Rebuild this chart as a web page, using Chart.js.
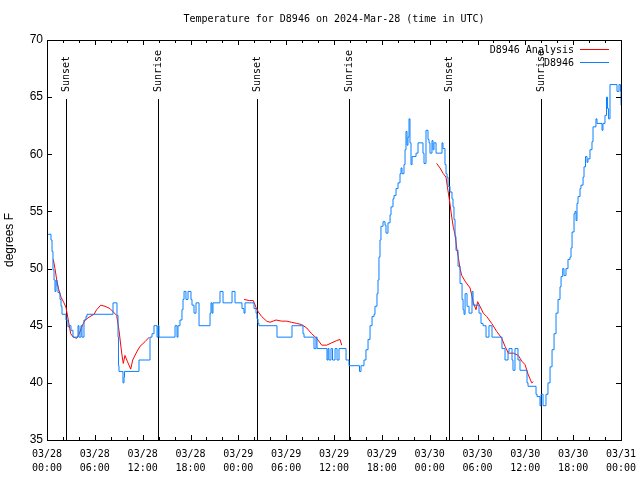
<!DOCTYPE html>
<html>
<head>
<meta charset="utf-8">
<script src="https://cdn.jsdelivr.net/npm/chart.js@4.4.1/dist/chart.umd.min.js"></script>
<style>
  html, body { margin: 0; padding: 0; background: #fff; }
  #wrap { width: 640px; height: 480px; }
</style>
</head>
<body>
<div id="wrap"><canvas id="grafico" width="640" height="480"></canvas></div>
<script>
// hours since 2024-03-28 00:00 UTC
const obsHours = [0, 0.5, 0.63, 0.75, 0.88, 1.0, 1.13, 1.25, 1.38, 1.63, 1.76, 1.88, 2.38, 2.63, 2.76, 3.01, 3.26, 3.89, 4.01, 4.26, 4.39, 4.64, 4.89, 5.02,
  8.28, 8.78, 8.91, 8.97, 9.03, 9.53, 9.66, 9.72, 11.54, 12.92, 13.17, 13.42, 13.80, 13.92, 14.05, 16.06, 16.31, 16.43, 16.68, 16.93, 17.06, 17.19,
  17.43, 17.69, 18.06, 18.19, 18.44, 18.69, 19.07, 20.45, 20.57, 20.70, 20.82, 21.70, 22.08, 23.21, 23.58, 24.46, 24.71, 24.84, 25.97, 26.22, 26.34,
  26.47, 26.59, 28.85, 30.73, 32.11, 32.24, 33.49, 33.74, 33.87, 35.12, 35.25, 35.37, 35.62, 35.81, 36.13, 36.38, 36.63, 37.51,
  37.88, 39.20, 39.39, 39.76, 40.01, 40.27, 40.52, 40.77, 41.02, 41.14, 41.39, 41.52, 41.64, 41.77, 41.89, 42.15, 42.40, 42.52, 42.77, 43.03, 43.15,
  43.40, 43.53, 43.78, 44.03, 44.28, 44.41, 44.53, 44.78, 44.91, 45.03, 45.16, 45.28, 45.41, 45.53, 45.66, 45.79, 46.29, 46.54, 47.16, 47.29, 47.54,
  47.79, 47.92, 48.04, 48.29, 48.42, 48.54, 48.80, 49.55, 49.67, 49.92, 50.05, 50.18, 50.30, 50.55, 50.80, 50.93, 51.05, 51.18, 51.30, 51.56, 51.81,
  52.06, 52.19, 52.31, 52.44, 52.69, 52.94, 53.31, 53.44, 54.19, 54.44, 54.69, 55.07, 55.44, 55.82, 57.07, 57.45, 57.83, 57.95, 58.33, 58.45, 58.70,
  59.08, 59.33, 60.21, 60.34, 61.34, 61.47, 61.84, 61.97, 62.22, 62.47, 62.59, 62.84, 63.10, 63.35, 63.60, 63.85, 64.10, 64.35, 64.48, 64.69, 64.85,
  65.10, 65.35, 65.60, 65.73, 65.86, 66.11, 66.23, 66.36, 66.48, 66.61, 66.86, 66.98, 67.24, 67.36, 67.55, 67.74, 67.86, 68.11, 68.36, 68.49, 68.86,
  68.99, 69.62, 69.74, 69.99, 70.18, 70.31, 70.44, 70.62, 71.50, 71.75, 71.94, 72.0];
const obsTemps = [53.0, 52.5, 51.5, 49.9, 49.0, 48.0, 49.0, 48.5, 47.9, 47.3, 46.7, 46.0, 45.5, 44.9, 45.0, 44.6, 44.0, 45.0, 44.0, 45.0, 44.0, 45.5, 45.8, 46.0,
  47.0, 45.9, 44.0, 41.5, 41.0, 40.0, 40.5, 41.0, 42.0, 44.0, 44.3, 45.0, 44.0, 45.0, 44.0, 45.0, 44.0, 45.0, 45.5, 46.4, 47.3, 48.0,
  47.3, 48.0, 47.3, 46.8, 46.1, 47.0, 45.0, 46.1, 47.0, 46.1, 47.0, 48.0, 47.0, 48.0, 47.0, 46.5, 46.1, 47.0, 46.5, 46.1, 45.6,
  45.2, 45.0, 44.0, 45.0, 44.3, 44.0, 43.0, 44.0, 43.0, 42.0, 43.0, 42.0, 43.0, 42.0, 43.0, 42.0, 43.0, 42.0, 41.5,
  41.0, 41.5, 42.0, 42.9, 43.8, 45.0, 45.8, 46.0, 46.7, 47.8, 49.0, 51.0, 52.5, 53.7, 54.1, 53.8, 53.1, 54.0, 54.7, 55.4, 56.1,
  56.4, 57.0, 57.5, 58.3, 58.8, 58.3, 59.1, 60.4, 62.0, 60.8, 61.5, 63.1, 61.0, 59.1, 59.8, 60.1, 61.0, 60.1, 59.2, 62.1, 61.3,
  61.0, 60.1, 61.2, 60.4, 61.0, 60.1, 61.0, 60.5, 59.1, 58.3, 58.0, 57.2, 56.7, 56.1, 55.4, 54.3, 52.8, 51.6, 50.2, 48.7, 47.3,
  46.4, 46.0, 47.8, 46.7, 46.1, 48.0, 46.8, 46.1, 45.2, 45.0, 44.0, 45.0, 44.0, 43.0, 42.0, 42.7, 43.0, 42.0, 41.1, 43.0, 42.0,
  41.1, 40.0, 39.7, 39.0, 38.8, 38.0, 39.0, 38.0, 38.0, 39.0, 40.0, 41.4, 42.9, 44.3, 46.1, 47.3, 48.4, 49.3, 50.0, 49.4, 50.0,
  50.8, 51.0, 51.8, 53.2, 54.8, 55.0, 54.2, 55.7, 56.3, 57.0, 57.3, 58.0, 58.9, 59.8, 59.3, 59.6, 60.4, 61.1, 62.4, 63.1, 62.7,
  62.1, 62.7, 63.4, 65.0, 64.0, 63.1, 66.1, 65.5, 66.1, 65.5, 64.3, 64.3];

// analysis series, null = gap
const anaHours = [0.79, 1.00, 1.22, 1.42, 1.76, 2.13, 2.38, 2.67, 2.97, 3.30, 3.73, 4.05, 4.35, 4.77, 5.39, 5.90, 6.23, 6.74, 7.28, 7.90, 8.32, 8.74,
  9.03, 9.37, 9.57, 9.78, 10.07, 10.50, 10.75, 11.25, 11.67, 12.29, 12.83, 18.0,
  24.71, 25.38, 25.88, 26.22, 26.51, 26.93, 27.56, 27.97, 28.73, 29.44, 30.07, 30.69, 31.32, 31.95, 32.58, 33.20, 33.83, 34.46, 35.09, 35.71,
  36.34, 36.75, 36.97, 42.0,
  48.88, 49.30, 49.71, 50.05, 50.21, 50.46, 50.77, 50.97, 51.18, 51.39, 51.59, 51.81, 52.02, 52.44, 53.07, 53.49, 53.81, 54.02, 54.31, 54.73,
  55.16, 55.78, 56.41, 57.04, 57.45, 57.87, 58.49, 59.12, 59.55, 59.96, 60.37, 60.80, 61.00];
const anaTemps = [50.8, 50.0, 49.0, 48.3, 47.5, 47.0, 46.6, 45.5, 44.3, 44.0, 43.9, 44.3, 44.9, 45.5, 45.8, 46.0, 46.4, 46.8, 46.7, 46.5, 46.2, 45.9,
  44.6, 42.6, 41.7, 42.4, 41.9, 41.2, 42.0, 42.7, 43.2, 43.6, 44.0, null,
  47.3, 47.2, 47.2, 46.6, 46.2, 45.8, 45.4, 45.3, 45.5, 45.4, 45.4, 45.3, 45.2, 45.1, 44.8, 44.3, 43.9, 43.3, 43.3, 43.5,
  43.7, 43.8, 43.3, null,
  59.2, 58.8, 58.3, 58.0, 57.2, 56.1, 54.5, 53.6, 53.0, 51.8, 51.0, 50.0, 49.4, 48.9, 48.3, 47.0, 46.4, 47.1, 46.7, 46.1,
  45.8, 45.2, 44.5, 43.9, 43.2, 42.6, 42.6, 42.4, 41.9, 41.6, 40.7, 40.0, 40.1];

const sunHours = [2.38, 13.92, 26.34, 37.88, 50.43, 61.97];
const sunLabels = ['Sunset', 'Sunrise', 'Sunset', 'Sunrise', 'Sunset', 'Sunrise'];

const titulo = 'Temperature for D8946 on 2024-Mar-28 (time in UTC)';
const nomeAnalise = 'D8946 Analysis';
const nomeObs = 'D8946';
const azul = '#0a80ff';
const vermelho = '#ff0000';
const mono = '10px "DejaVu Sans Mono", "Liberation Mono", monospace';

const pontosObs = obsHours.map((h, i) => ({ x: h, y: obsTemps[i] }));
const pontosAna = anaHours.map((h, i) => ({ x: h, y: anaTemps[i] }));

const px = v => Math.round(v) + 0.5;

const moldura = {
  id: 'moldura',
  beforeDatasetsDraw(chart) {
    const { ctx, chartArea: a, scales } = chart;
    ctx.save();
    ctx.strokeStyle = '#000';
    ctx.lineWidth = 1;
    ctx.fillStyle = '#000';
    ctx.font = mono;
    // sunrise / sunset markers
    sunHours.forEach((h, i) => {
      const x = px(scales.x.getPixelForValue(h));
      ctx.beginPath();
      ctx.moveTo(x, a.top + 59);
      ctx.lineTo(x, a.bottom);
      ctx.stroke();
      ctx.save();
      ctx.translate(x, a.top + 52);
      ctx.rotate(-Math.PI / 2);
      ctx.textAlign = 'left';
      ctx.textBaseline = 'middle';
      ctx.fillText(sunLabels[i], 0, 0);
      ctx.restore();
    });
    ctx.restore();
  },
  afterDraw(chart) {
    const { ctx, chartArea: a, scales } = chart;
    ctx.save();
    ctx.strokeStyle = '#000';
    ctx.lineWidth = 1;
    ctx.strokeRect(px(a.left), px(a.top), Math.round(a.right - a.left), Math.round(a.bottom - a.top));

    // inward tick marks
    ctx.beginPath();
    scales.y.ticks.forEach(t => {
      const y = px(scales.y.getPixelForValue(t.value));
      ctx.moveTo(a.left, y); ctx.lineTo(a.left + 5, y);
      ctx.moveTo(a.right, y); ctx.lineTo(a.right - 5, y);
    });
    for (let h = scales.x.min; h <= scales.x.max; h += 2) {
      const x = px(scales.x.getPixelForValue(h));
      const len = h % 6 === 0 ? 5 : 3;
      ctx.moveTo(x, a.bottom); ctx.lineTo(x, a.bottom - len);
      ctx.moveTo(x, a.top); ctx.lineTo(x, a.top + len);
    }
    ctx.stroke();

    // title
    ctx.fillStyle = '#000';
    ctx.font = mono;
    ctx.textAlign = 'center';
    ctx.textBaseline = 'middle';
    ctx.fillText(titulo, (a.left + a.right) / 2, a.top - 21);

    // y axis title
    ctx.save();
    ctx.font = '12px "Liberation Sans", Arial, sans-serif';
    ctx.translate(10, (a.top + a.bottom) / 2);
    ctx.rotate(-Math.PI / 2);
    ctx.fillText('degrees F', 0, 0);
    ctx.restore();

    // legend
    const itens = [[nomeAnalise, vermelho], [nomeObs, azul]];
    itens.forEach(([nome, cor], i) => {
      const y = a.top + 10 + i * 13;
      ctx.textAlign = 'right';
      ctx.fillStyle = '#000';
      ctx.fillText(nome, a.right - 47, y);
      ctx.strokeStyle = cor;
      ctx.beginPath();
      ctx.moveTo(a.right - 41, px(y - 1));
      ctx.lineTo(a.right - 12, px(y - 1));
      ctx.stroke();
    });
    ctx.restore();
  }
};

const formatarHora = v => {
  const dia = 28 + Math.floor(v / 24);
  const hora = v % 24;
  return ['03/' + dia, String(hora).padStart(2, '0') + ':00'];
};

new Chart(document.getElementById('grafico'), {
  type: 'line',
  data: {
    datasets: [
      {
        label: nomeObs,
        data: pontosObs,
        borderColor: azul,
        borderWidth: 1,
        pointRadius: 0,
        stepped: true,
        fill: false
      },
      {
        label: nomeAnalise,
        data: pontosAna,
        borderColor: vermelho,
        borderWidth: 1,
        pointRadius: 0,
        tension: 0,
        spanGaps: false,
        fill: false
      }
    ]
  },
  options: {
    responsive: false,
    animation: false,
    devicePixelRatio: 1,
    layout: { padding: { top: 40, right: 19, bottom: 0, left: 0 } },
    plugins: {
      legend: { display: false },
      title: { display: false },
      tooltip: { enabled: false }
    },
    scales: {
      x: {
        type: 'linear',
        min: 0,
        max: 72,
        grid: { display: false, drawTicks: false },
        border: { display: false },
        afterBuildTicks: scale => {
          const t = [];
          for (let h = 0; h <= 72; h += 6) t.push({ value: h });
          scale.ticks = t;
        },
        afterFit: scale => {
          scale.height = 40;
          scale.paddingLeft = 0;
          scale.paddingRight = 0;
        },
        ticks: {
          autoSkip: false,
          maxRotation: 0,
          padding: 7,
          color: '#000',
          font: { family: '"DejaVu Sans Mono", "Liberation Mono", monospace', size: 10, lineHeight: 1.4 },
          callback: v => formatarHora(v)
        }
      },
      y: {
        min: 35,
        max: 70,
        grid: { display: false, drawTicks: false },
        border: { display: false },
        afterFit: scale => {
          scale.width = 47;
          scale.paddingTop = 0;
          scale.paddingBottom = 0;
        },
        ticks: {
          stepSize: 5,
          padding: 4,
          color: '#000',
          font: { family: '"Liberation Sans", Arial, sans-serif', size: 12 }
        }
      }
    }
  },
  plugins: [moldura]
});
</script>
</body>
</html>
